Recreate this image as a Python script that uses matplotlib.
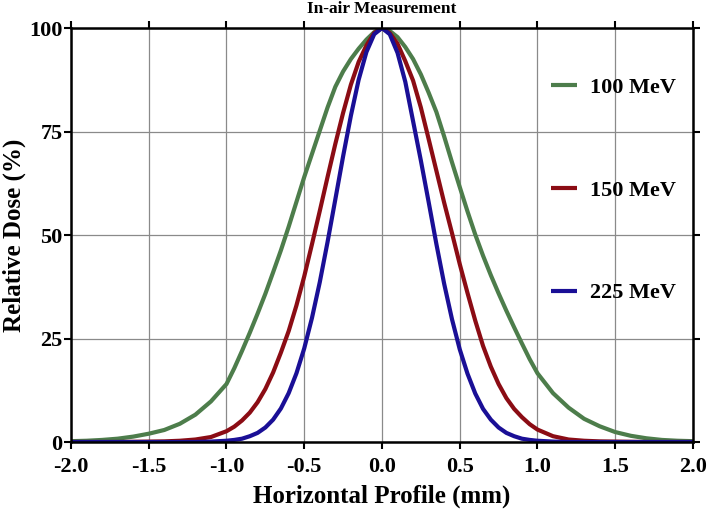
#!/usr/bin/env python3
"""
In-air lateral dose profiles for three proton energies.
Values read off the reference figure.
"""

import matplotlib
matplotlib.use("Agg")
import matplotlib.pyplot as plt

# Horizontal position (mm)
x_mm = [-2.0, -1.9, -1.8, -1.7, -1.6, -1.5, -1.4, -1.3, -1.2, -1.1,
        -1.0, -0.95, -0.9, -0.85, -0.8, -0.75, -0.7, -0.65, -0.6, -0.55,
        -0.5, -0.45, -0.4, -0.35, -0.3, -0.25, -0.2, -0.15, -0.1, -0.05,
        0.0, 0.05, 0.1, 0.15, 0.2, 0.25, 0.3, 0.35, 0.4, 0.45,
        0.5, 0.55, 0.6, 0.65, 0.7, 0.75, 0.8, 0.85, 0.9, 0.95,
        1.0, 1.1, 1.2, 1.3, 1.4, 1.5, 1.6, 1.7, 1.8, 1.9, 2.0]

# Relative dose (%)
dose_100 = [0.2, 0.3, 0.5, 0.8, 1.3, 2.0, 2.9, 4.4, 6.6, 9.8,
            14.0, 17.8, 22.0, 26.4, 31.0, 35.8, 41.0, 46.3, 52.0, 58.0,
            64.0, 69.6, 75.2, 80.8, 85.8, 89.5, 92.5, 95.0, 97.2, 99.0,
            100.0, 99.3, 97.8, 95.4, 92.5, 88.8, 84.4, 79.7, 73.8, 67.6,
            61.6, 55.7, 50.1, 45.0, 40.3, 35.9, 31.7, 27.7, 23.8, 20.0,
            16.6, 11.8, 8.3, 5.6, 3.8, 2.4, 1.5, 0.9, 0.5, 0.3, 0.2]

dose_150 = [0.0, 0.0, 0.0, 0.0, 0.05, 0.1, 0.15, 0.3, 0.6, 1.2,
            2.6, 3.7, 5.2, 7.1, 9.6, 12.8, 16.8, 21.6, 26.8, 33.0,
            40.0, 47.8, 55.8, 64.0, 72.0, 79.5, 86.3, 91.8, 95.8, 98.8,
            100.0, 98.8, 96.2, 92.0, 87.3, 80.8, 73.2, 65.5, 57.8, 50.5,
            43.0, 36.0, 29.3, 23.2, 18.2, 14.0, 10.6, 8.0, 6.0, 4.3,
            3.0, 1.4, 0.6, 0.3, 0.15, 0.1, 0.05, 0.0, 0.0, 0.0, 0.0]

dose_225 = [0.0, 0.0, 0.0, 0.0, 0.0, 0.0, 0.0, 0.0, 0.0, 0.1,
            0.3, 0.5, 0.8, 1.4, 2.2, 3.5, 5.4, 8.1, 11.8, 16.6,
            22.6, 30.0, 38.6, 48.3, 58.6, 69.0, 78.8, 87.5, 94.2, 98.5,
            100.0, 98.5, 94.0, 87.0, 77.5, 68.0, 58.0, 47.8, 38.2, 29.7,
            22.4, 16.5, 11.7, 8.0, 5.4, 3.5, 2.2, 1.4, 0.8, 0.5,
            0.3, 0.1, 0.0, 0.0, 0.0, 0.0, 0.0, 0.0, 0.0, 0.0, 0.0]

labels = ["100 MeV", "150 MeV", "225 MeV"]
colors = ["#4d7d4b", "#8b0c14", "#1a0f96"]

x_ticks = [-2.0, -1.5, -1.0, -0.5, 0.0, 0.5, 1.0, 1.5, 2.0]
x_tick_labels = ["-2.0", "-1.5", "-1.0", "-0.5", "0.0", "0.5", "1.0", "1.5", "2.0"]
y_ticks = [0, 25, 50, 75, 100]
y_tick_labels = ["0", "25", "50", "75", "100"]


def main():
    plt.rcParams["font.family"] = ["Liberation Serif", "DejaVu Serif"]
    plt.rcParams["font.weight"] = "bold"

    fig = plt.figure(figsize=(7.09, 5.13), dpi=100)
    ax = fig.add_axes([0.1001, 0.1384, 0.8773, 0.8070])

    for dose, label, color in zip([dose_100, dose_150, dose_225], labels, colors):
        ax.plot(x_mm, dose, color=color, linewidth=3.0, label=label,
                solid_capstyle="butt", solid_joinstyle="round", zorder=3)

    ax.set_xlim(-2.0, 2.0)
    ax.set_ylim(0, 100)
    ax.set_xticks(x_ticks)
    ax.set_xticklabels(x_tick_labels)
    ax.set_yticks(y_ticks)
    ax.set_yticklabels(y_tick_labels)

    ax.grid(True, color="#8a8a8a", linewidth=0.9)
    ax.set_axisbelow(True)
    for spine in ax.spines.values():
        spine.set_linewidth(1.8)
        spine.set_color("black")
        spine.set_zorder(4)

    ax.tick_params(direction="out", length=5, width=1.5, top=True, right=True,
                   labelsize=16, pad=1)
    ax.tick_params(axis="x", pad=6)

    ax.set_xlabel("Horizontal Profile (mm)", fontsize=18, fontweight="bold", labelpad=5)
    ax.set_ylabel("Relative Dose (%)", fontsize=18, fontweight="bold", labelpad=2)
    ax.set_title("In-air Measurement", fontsize=12.5, fontweight="bold", pad=11)

    ax.legend(loc="upper left", bbox_to_anchor=(0.772, 0.881), frameon=False,
              fontsize=16, handlelength=1.17, handletextpad=0.6,
              labelspacing=3.7, borderpad=0, borderaxespad=0)

    fig.savefig("out.png", dpi=100)


if __name__ == "__main__":
    main()
